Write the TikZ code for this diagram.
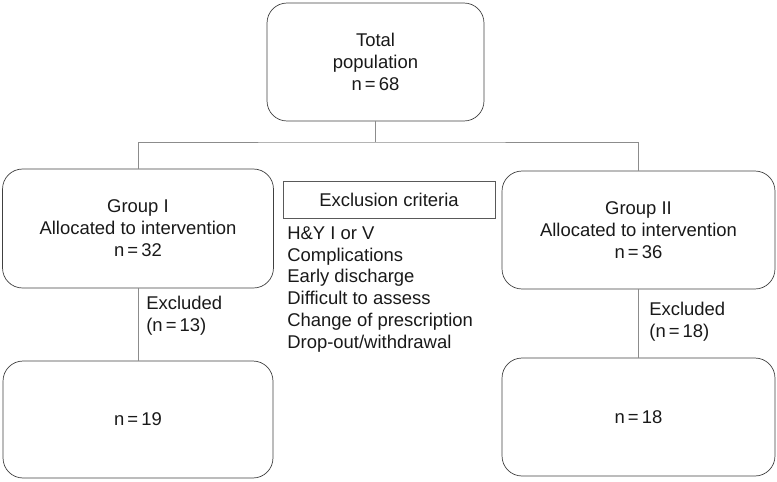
\documentclass[tikz,border=0pt]{standalone}
\usepackage{fontspec}
\setmainfont{Liberation Sans}
\usepackage{tikz}
\usetikzlibrary{positioning,calc}

\begin{document}
\begin{tikzpicture}[
        x=0.02cm, y=-0.02cm,
        every node/.style={align=center, font=\fontsize{10.5}{12.5}\selectfont, text=black!90},
        box/.style={draw=black!75, rounded corners=0.4cm, inner sep=2pt},
        critbox/.style={draw=black!65, rectangle, minimum width=4.24cm, minimum height=0.74cm},
        link/.style={draw=black!45, line width=0.5pt}
    ]
        \useasboundingbox (0,0) rectangle (777,481);

        % boxes
        \node[box, minimum width=4.34cm, minimum height=2.36cm] (total) at (375.5,62)
            {Total\\population\\n\,=\,68};
        \node[box, minimum width=5.42cm, minimum height=2.38cm] (grpI) at (138,228.5)
            {Group I\\Allocated to intervention\\n\,=\,32};
        \node[box, minimum width=5.46cm, minimum height=2.36cm] (grpII) at (638.5,230)
            {Group II\\Allocated to intervention\\n\,=\,36};
        \node[box, minimum width=5.40cm, minimum height=2.34cm] (finI) at (138,419.5)
            {n\,=\,19};
        \node[box, minimum width=5.46cm, minimum height=2.36cm] (finII) at (638.5,417)
            {n\,=\,18};

        % exclusion criteria
        \node[critbox] (crit) at (389,199.5) {Exclusion criteria};
        \node[anchor=west, align=left, inner sep=0pt] (critlist) at (287,289.5)
            {H\&Y I or V\\Complications\\Early discharge\\Difficult to assess\\Change of prescription\\Drop-out/withdrawal};

        % excluded labels
        \node[anchor=west, align=left, inner sep=0pt] (exclI) at (146,316) {Excluded\\(n\,=\,13)};
        \node[anchor=west, align=left, inner sep=0pt] (exclII) at (649,322) {Excluded\\(n\,=\,18)};

        % connectors
        \coordinate (split) at (375.5,142);
        \draw[link] (total.south) -- (split);
        \draw[link] (grpI.north) |- (split) -| (grpII.north);
        \draw[link] (grpI.south) -- (finI.north);
        \draw[link] (grpII.south) -- (finII.north);
    \end{tikzpicture}
\end{document}
